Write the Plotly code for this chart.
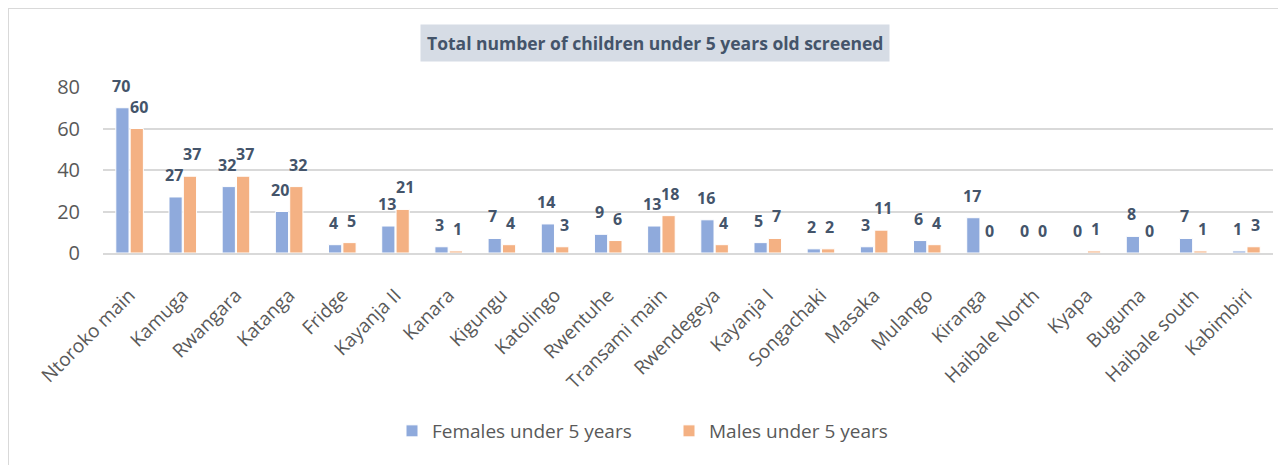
import plotly.graph_objects as go

sites = ["Ntoroko main", "Kamuga", "Rwangara", "Katanga", "Fridge", "Kayanja II", "Kanara",
         "Kigungu", "Katolingo", "Rwentuhe", "Transami main", "Rwendegeya", "Kayanja I",
         "Songachaki", "Masaka", "Mulango", "Kiranga", "Haibale North", "Kyapa", "Buguma",
         "Haibale south", "Kabimbiri"]
females = [70, 27, 32, 20, 4, 13, 3, 7, 14, 9, 13, 16, 5, 2, 3, 6, 17, 0, 0, 8, 7, 1]
males = [60, 37, 37, 32, 5, 21, 1, 4, 3, 6, 18, 4, 7, 2, 11, 4, 0, 0, 1, 0, 1, 3]
y_ticks = [0, 20, 40, 60, 80]

# page has an 8px body margin; figure coordinates = page coordinates - 8
OFF = 8
W, H = 1286 - OFF, 465 - OFF
L, T = 103 - OFF, 87 - OFF
R = W - (1273 - OFF)
B = H - (253 - OFF)
pw, ph = W - L - R, H - T - B

def px_x(x):  # page px -> paper
    return (x - OFF - L) / pw

def px_y(y):
    return (H - B - (y - OFF)) / ph

label_font = dict(family="Open Sans, sans-serif", size=16, color="#44546A")
FEM, MAL = "#8FAADC", "#F4B183"

fig = go.Figure()
fig.add_trace(go.Bar(x=sites, y=females, name="Females under 5 years",
                     marker=dict(color=FEM, line=dict(color="white", width=1))))
fig.add_trace(go.Bar(x=sites, y=males, name="Males under 5 years",
                     marker=dict(color=MAL, line=dict(color="white", width=1))))

# data labels, centred above each bar
for s, v in zip(sites, females):
    fig.add_annotation(x=s, y=v, text=f"<b>{v}</b>", showarrow=False, xshift=-9, yshift=22,
                       xanchor="center", yanchor="middle", font=label_font)
for s, v in zip(sites, males):
    fig.add_annotation(x=s, y=v, text=f"<b>{v}</b>", showarrow=False, xshift=9, yshift=22,
                       xanchor="center", yanchor="middle", font=label_font)

fig.update_layout(
    width=W, height=H,
    margin=dict(l=L, r=R, t=T, b=B, autoexpand=False),
    paper_bgcolor="white", plot_bgcolor="white",
    barmode="group", bargap=0.46, bargroupgap=0.08,
    font=dict(family="Open Sans, sans-serif", color="#595959"),
    showlegend=True,
    legend=dict(orientation="h", x=px_x(392), xanchor="left", y=px_y(431), yanchor="middle",
                font=dict(size=19, color="#595959"), itemwidth=30, traceorder="normal",
                entrywidth=232),
)
fig.update_xaxes(tickangle=-45, tickfont=dict(size=19, color="#595959"), showgrid=False,
                 showline=True, linecolor="#D9D9D9", linewidth=1.5, ticks="", automargin=False,
                 ticklabelstandoff=22)
fig.update_yaxes(range=[0, 80], tickvals=y_ticks, tickfont=dict(size=20, color="#595959"),
                 showgrid=True, gridcolor="#D9D9D9", gridwidth=1.5, zeroline=False,
                 ticklabelstandoff=22, showline=False, automargin=False)

fig.add_annotation(text="<b>Total number of children under 5 years old screened</b>",
                   xref="paper", yref="paper", x=px_x(655), y=px_y(43),
                   xanchor="center", yanchor="middle", showarrow=False,
                   font=dict(family="Open Sans, sans-serif", size=17.5, color="#44546A"),
                   bgcolor="#D6DCE5", borderpad=6)

# outer chart border (left and top edges visible)
fig.add_shape(type="line", xref="paper", yref="paper",
              x0=px_x(OFF), x1=px_x(OFF), y0=px_y(470), y1=px_y(OFF),
              line=dict(color="#D9D9D9", width=2))
fig.add_shape(type="line", xref="paper", yref="paper",
              x0=px_x(OFF), x1=px_x(1290), y0=px_y(OFF), y1=px_y(OFF),
              line=dict(color="#D9D9D9", width=2))

fig.write_html("out.html")
